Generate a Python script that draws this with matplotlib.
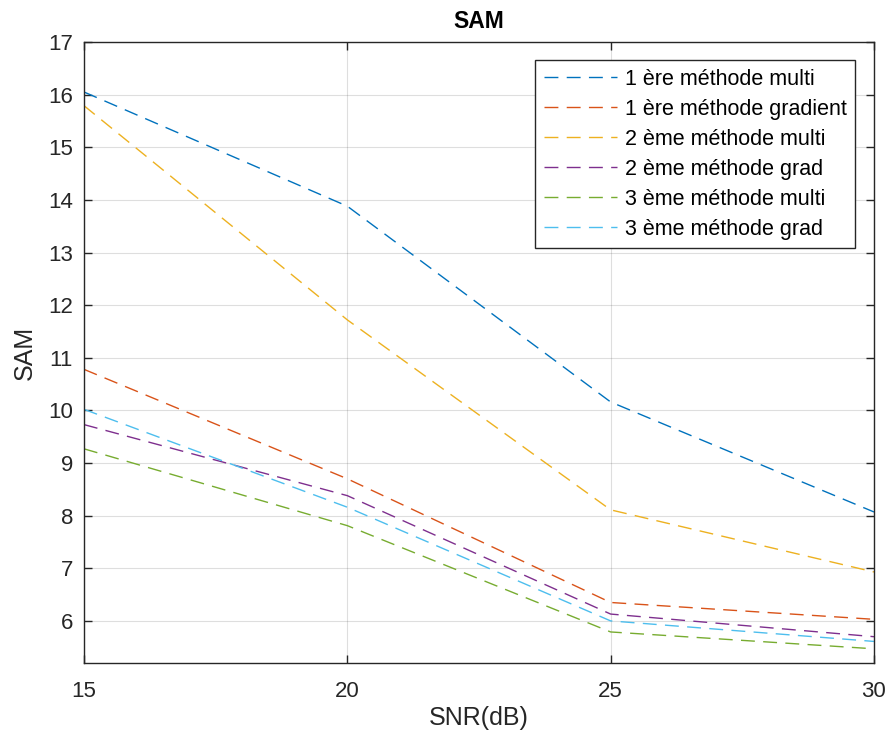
import numpy as np
import matplotlib
matplotlib.use('Agg')
import matplotlib.pyplot as plt

# SAM values
snr = [15, 20, 25, 30]
m1_multi = [16.05, 13.88, 10.16, 8.07]
m1_grad = [10.78, 8.70, 6.35, 6.03]
m2_multi = [15.79, 11.72, 8.11, 6.93]
m2_grad = [9.73, 8.38, 6.13, 5.70]
m3_multi = [9.27, 7.81, 5.79, 5.47]
m3_grad = [10.02, 8.16, 6.00, 5.61]

labels = ['1 ère méthode multi', '1 ère méthode gradient', '2 ème méthode multi',
          '2 ème méthode grad', '3 ème méthode multi', '3 ème méthode grad']
series = [m1_multi, m1_grad, m2_multi, m2_grad, m3_multi, m3_grad]
colors = [(0, 0.447, 0.741), (0.85, 0.325, 0.098), (0.929, 0.694, 0.125),
          (0.494, 0.184, 0.556), (0.466, 0.674, 0.188), (0.301, 0.745, 0.933)]

plt.rcParams['font.family'] = ['Liberation Sans', 'DejaVu Sans']
plt.rcParams['lines.scale_dashes'] = False
dark = (0.15, 0.15, 0.15)

fig = plt.figure(figsize=(8.87, 7.37), dpi=100)
ax = fig.add_axes([0.0947, 0.1004, 0.8906, 0.8426])

for vals, lab, col in zip(series, labels, colors):
    ax.plot(snr, vals, linestyle=(0, (10, 6)), color=col, linewidth=1.0, label=lab)

ax.set_xlim(15, 30)
ax.set_ylim(5.2, 17)
ax.set_xticks([15, 20, 25, 30])
ax.set_yticks(np.arange(6, 18, 1))
ax.grid(True, color=dark, alpha=0.15, linewidth=0.8)
ax.tick_params(direction='in', top=True, right=True, length=6, width=1.0,
               labelsize=16, colors=dark)
ax.tick_params(axis='x', pad=13)
ax.tick_params(axis='y', pad=8)
for s in ax.spines.values():
    s.set_color(dark)
    s.set_linewidth(1.0)

ax.set_xlabel('SNR(dB)', fontsize=18, color=dark, labelpad=3)
ax.set_ylabel('SAM', fontsize=18, color=dark, labelpad=8)
ax.set_title('SAM', fontsize=16.5, fontweight='bold', pad=10)

leg = ax.legend(loc='upper right', bbox_to_anchor=(0.976, 0.971), borderaxespad=0,
                fontsize=15.5, handlelength=3.4, handletextpad=0.35,
                fancybox=False, framealpha=1, edgecolor=dark,
                labelspacing=0.42, borderpad=0.4)
leg.get_frame().set_linewidth(1.0)

fig.savefig('out.png', dpi=100)
